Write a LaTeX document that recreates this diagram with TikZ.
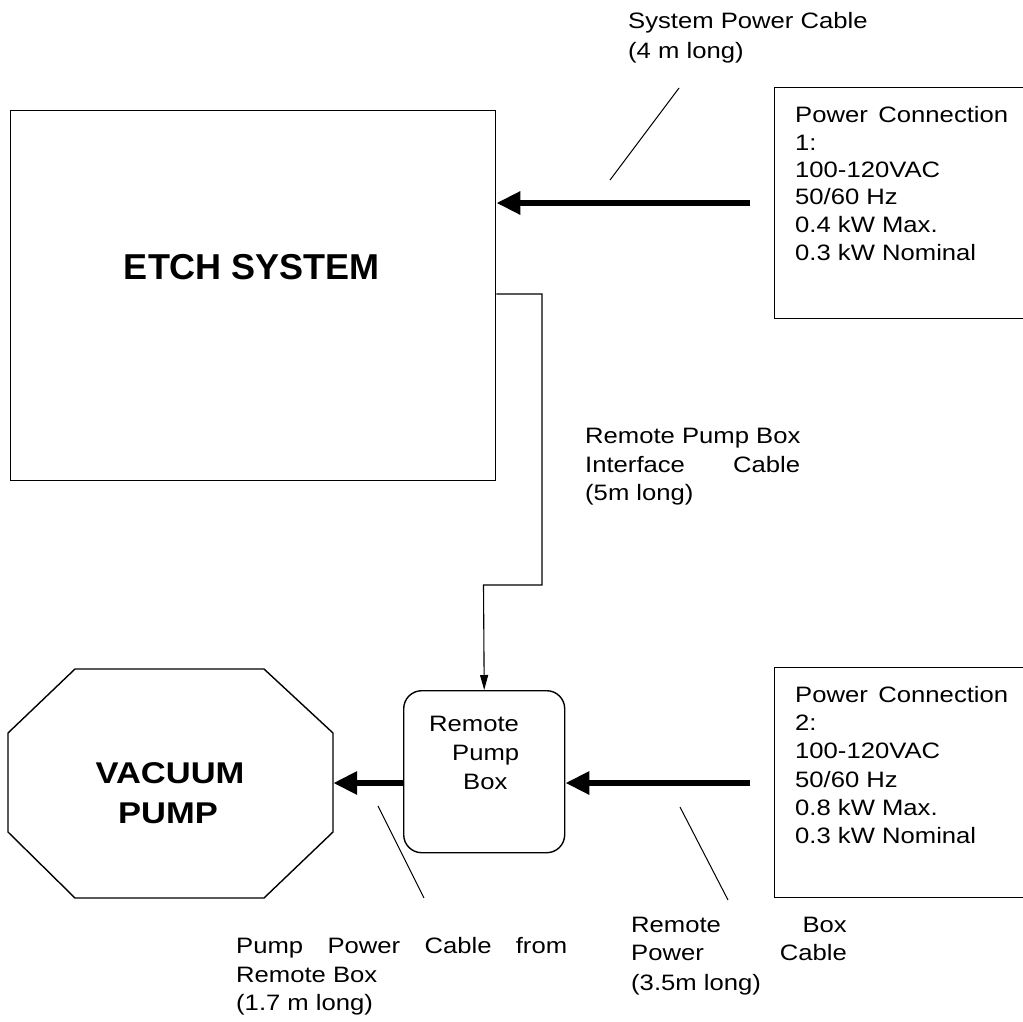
\documentclass[tikz,border=0pt]{standalone}
\usepackage{fontspec}
\setmainfont{Liberation Sans}
\newfontfamily\rf{Liberation Sans}[FakeStretch=1.15]
\usetikzlibrary{arrows.meta}
\begin{document}
\begin{tikzpicture}[x=1pt,y=-1pt,
  box/.style={draw, line width=1.4pt, inner sep=0pt},
  txt/.style={anchor=base west, inner sep=0pt, font=\rf\fontsize{22.3}{28}\selectfont},
  bigtxt/.style={anchor=base, inner sep=0pt},
  bigarrow/.style={line width=6pt, -{Triangle[length=24pt,width=22pt]}},
  cable/.style={line width=1.1pt},
  lead/.style={line width=1pt}]
\clip (0,0) rectangle (1023,1021);
\fill[white] (0,0) rectangle (1023,1021);

% boxes
\node[box, minimum width=485pt, minimum height=370pt, anchor=north west] (etch) at (10,110) {};
\node[box, minimum width=262pt, minimum height=231pt, anchor=north west] (pc1) at (774,87) {};
\node[box, minimum width=262pt, minimum height=230pt, anchor=north west] (pc2) at (774,667) {};
\node[box, rounded corners=18pt, minimum width=161pt, minimum height=162pt, anchor=north west] (rpb) at (403,690) {};
\node[minimum width=325pt, minimum height=229pt, inner sep=0pt] (vac) at (170.5,783.5) {};
\draw[line width=1.4pt] (75,669) -- (264,669) -- (333,733) -- (333,832) -- (264,898) -- (75,898) -- (8,832) -- (8,733) -- cycle;

% big labels
\node[bigtxt, font=\bfseries\fontsize{36}{40}\selectfont] (etchlbl) at (252,279) {ETCH SYSTEM};
\node[bigtxt, font=\rf\bfseries\fontsize{30}{34}\selectfont] (vaclbl1) at (170,783) {VACUUM};
\node[bigtxt, font=\rf\bfseries\fontsize{30}{34}\selectfont] (vaclbl2) at (168,823) {PUMP};

% power connection 1
\node[txt] (p1a) at (795,122) {\makebox[213pt][s]{Power Connection}};
\node[txt] (p1b) at (795,150) {1:};
\node[txt] (p1c) at (795,177) {100-120VAC};
\node[txt] (p1d) at (795,204) {50/60 Hz};
\node[txt] (p1e) at (795,232) {0.4 kW Max.};
\node[txt] (p1f) at (795,260) {0.3 kW Nominal};

% power connection 2
\node[txt] (p2a) at (795,702) {\makebox[213pt][s]{Power Connection}};
\node[txt] (p2b) at (795,730) {2:};
\node[txt] (p2c) at (795,758) {100-120VAC};
\node[txt] (p2d) at (795,787) {50/60 Hz};
\node[txt] (p2e) at (795,815) {0.8 kW Max.};
\node[txt] (p2f) at (795,843) {0.3 kW Nominal};

% remote pump box text
\node[txt] (r1) at (429,731) {Remote};
\node[txt] (r2) at (452,760) {Pump};
\node[txt] (r3) at (463,789) {Box};

% cable labels
\node[txt] (l1a) at (628,28) {System Power Cable};
\node[txt] (l1b) at (628,58) {(4 m long)};
\node[txt] (l2a) at (585,443) {Remote Pump Box};
\node[txt] (l2b) at (585,472) {\makebox[215pt][s]{Interface Cable}};
\node[txt] (l2c) at (585,500) {(5m long)};
\node[txt] (l3a) at (236,953) {\makebox[331pt][s]{Pump Power Cable from}};
\node[txt] (l3b) at (236,982) {Remote Box};
\node[txt] (l3c) at (236,1010) {(1.7 m long)};
\node[txt] (l4a) at (631,932) {Remote};
\node[txt, anchor=base east] (l4b) at (847,932) {Box};
\node[txt] (l4c) at (631,960) {Power};
\node[txt, anchor=base east] (l4d) at (847,960) {Cable};
\node[txt] (l4e) at (631,990) {(3.5m long)};

% thick arrows
\coordinate (s1) at (750,203);
\coordinate (s2) at (750,783);
\draw[bigarrow] (s1) -- (etch.east |- s1);
\draw[bigarrow] (s2) -- (rpb.east |- s2);
\draw[bigarrow] (rpb.west |- s2) -- (vac.east |- s2);

% interface cable
\coordinate (j1) at (542,294);
\coordinate (j2) at (542,585);
\coordinate (j3) at (483.5,585);
\draw[cable, -{Triangle[length=15pt,width=8pt]}] (etch.east |- j1) -- (j1) -- (j2) -- (j3) -- (rpb.north);

% leader lines
\coordinate (a1) at (679,88);
\coordinate (a2) at (610,180);
\coordinate (b1) at (378,806);
\coordinate (b2) at (424,898);
\coordinate (c1) at (680,807);
\coordinate (c2) at (728,900);
\draw[lead] (a1) -- (a2);
\draw[lead] (b1) -- (b2);
\draw[lead] (c1) -- (c2);
\end{tikzpicture}
\end{document}
